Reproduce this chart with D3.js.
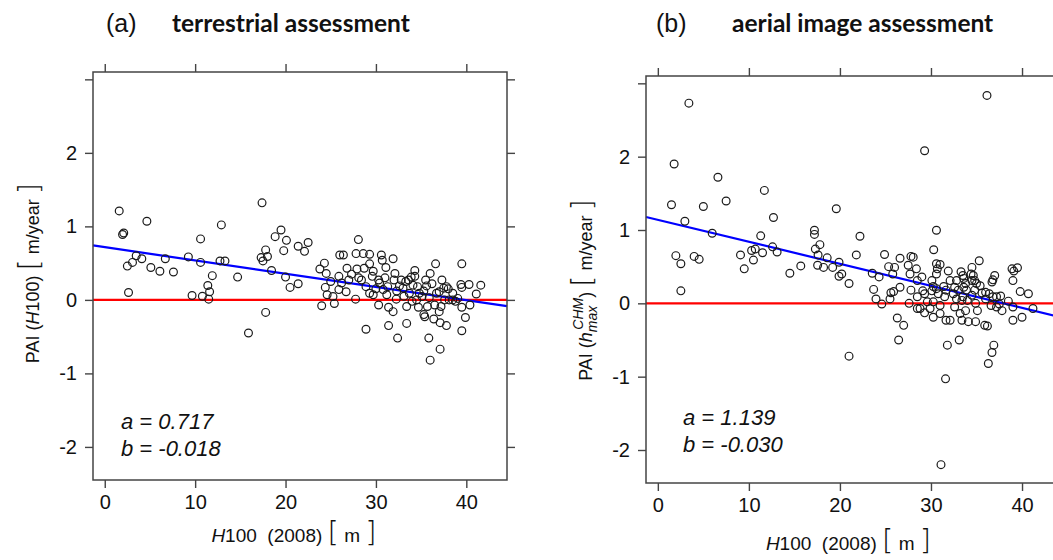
<!DOCTYPE html>
<html>
<head>
<meta charset="utf-8">
<script src="https://cdn.jsdelivr.net/npm/d3@7"></script>
<style>
  body { margin: 0; background: #fff; }
  svg { display: block; }
</style>
</head>
<body>
<svg id="chart" width="1053" height="560"></svg>
<script>
// (a) terrestrial assessment: H100 (2008) vs PAI
var terrH = [1.6,1.97,2.1,4.66,2.63,2.5,3.07,3.48,4.1,5.1,6.1,6.7,7.6,9.25,9.66,10.6,10.6,10.8,11.4,11.6,11.5,11.9,12.9,12.75,13.3,14.7,15.9,17.4,17.3,17.5,17.8,18.0,17.8,18.45,18.85,19.5,20.1,19.8,20.0,20.5,21.4,21.4,22.1,22.5,
  28.06,23.8,24.3,24.5,24.4,24.6,24.0,25.4,25.25,26.0,26.4,27.8,28.6,29.3,26.8,25.9,26.2,25.9,27.0,26.7,27.75,27.9,28.1,28.4,28.7,29.3,28.9,28.9,29.6,29.7,29.3,29.7,30.3,30.6,30.7,31.1,30.4,30.8,31.2,31.4,31.4,31.9,32.1,32.0,31.9,32.4,32.25,31.3,32.6,33.3,33.4,33.4,33.6,33.9,34.3,34.3,34.1,33.7,34.5,34.7,35.3,35.4,35.5,35.6,35.3,35.1,36.0,36.6,35.7,35.85,36.0,36.4,36.5,36.7,37.0,37.2,37.1,37.0,37.3,37.5,37.8,38.0,37.8,37.1,37.6,38.1,38.5,39.5,39.4,39.5,40.3,39.5,39.9,39.5,40.4,41.1,41.6,39.05,30.3,31.0,32.8,33.0,34.6,34.8,38.5,
  25.0,27.3,30.0,32.3,33.1,34.0,35.9,36.2,38.8];
var terrPAI = [1.21,0.89,0.91,1.07,0.10,0.46,0.51,0.60,0.56,0.44,0.39,0.56,0.38,0.585,0.06,0.83,0.51,0.05,0.195,0.11,0.01,0.33,1.02,0.53,0.53,0.31,-0.45,1.32,0.575,0.53,0.68,0.59,-0.17,0.40,0.86,0.95,0.81,0.67,0.31,0.17,0.22,0.73,0.66,0.78,
  0.82,0.42,0.50,0.36,0.17,0.07,-0.08,-0.05,0.045,0.61,0.61,0.63,0.63,0.62,0.43,0.32,0.23,0.14,0.27,0.11,0.01,0.42,0.30,0.27,0.43,0.49,0.18,-0.40,0.32,0.39,0.09,0.07,-0.07,0.61,0.54,0.44,0.23,0.14,0.07,-0.10,-0.35,0.56,0.36,0.27,-0.16,-0.52,0.01,0.18,0.19,0.25,-0.32,-0.09,0.27,0.31,0.40,0.32,0.20,0.09,0.00,-0.10,-0.20,-0.23,0.27,0.19,0.12,0.045,0.36,0.49,-0.09,-0.52,-0.82,-0.26,-0.07,0.09,0.11,-0.09,-0.31,-0.16,0.27,0.16,0.18,0.15,-0.35,-0.67,0.00,0.00,0.00,0.49,0.21,0.17,0.21,-0.10,-0.24,-0.42,-0.07,0.08,0.20,0.02,0.27,0.30,0.27,0.16,0.18,0.09,0.09,
  0.25,0.35,0.15,0.12,0.05,-0.02,0.03,0.22,-0.02];

// (b) aerial image assessment: H100 (2008) vs PAI (h max CHM)
var aerH = [3.41,1.79,1.5,6.6,5.0,7.5,11.7,2.97,5.97,12.7,19.6,1.98,2.53,3.99,4.54,2.53,9.08,9.49,10.3,10.7,10.5,11.5,11.3,12.6,13.1,14.5,15.7,17.2,17.2,17.3,17.8,17.6,17.55,18.2,18.6,19.2,19.9,20.2,19.9,21.0,21.0,
  36.15,29.3,30.6,22.2,21.8,24.9,30.3,26.6,27.8,28.05,23.55,24.3,23.7,23.96,24.6,25.35,25.8,26.0,25.6,25.9,26.6,25.5,27.5,27.7,28.4,28.5,27.8,27.6,28.5,28.8,29.0,29.1,29.3,29.3,29.6,26.3,27.0,26.45,
  30.6,31.0,30.7,30.6,30.1,30.25,30.1,30.6,30.8,30.25,29.9,30.25,31.0,31.0,31.4,31.65,31.5,31.65,32.1,31.8,31.6,31.1,31.9,32.1,32.6,32.8,33.0,32.8,33.3,33.5,33.2,33.4,33.1,33.6,33.8,33.6,33.9,33.5,33.4,34.0,33.8,34.1,
  34.5,34.4,34.65,34.5,34.8,35.0,34.8,34.5,34.9,35.1,34.9,35.3,35.4,35.6,36.0,36.0,35.9,36.2,36.7,36.8,37.0,36.4,36.8,36.6,37.2,36.9,36.7,36.3,37.2,37.65,37.5,37.8,38.5,38.9,39.1,39.5,39.0,39.0,39.0,40.0,39.8,40.7,41.2,28.5,32.45,32.6];
var aerPAI = [2.73,1.90,1.345,1.72,1.32,1.395,1.54,1.12,0.955,1.17,1.29,0.65,0.54,0.64,0.60,0.17,0.66,0.47,0.72,0.74,0.59,0.69,0.92,0.77,0.70,0.41,0.51,0.996,0.94,0.74,0.80,0.66,0.52,0.49,0.62,0.49,0.56,0.40,0.37,0.27,-0.72,
  2.835,2.08,0.996,0.915,0.66,0.666,0.73,0.615,0.64,0.63,0.41,0.36,0.19,0.06,-0.01,0.50,0.40,0.49,0.145,0.16,0.22,0.06,0.52,0.40,0.47,0.31,0.18,0.00,-0.07,-0.07,0.36,0.17,0.13,-0.13,0.02,-0.20,-0.30,-0.50,
  0.54,0.53,0.47,0.40,0.31,0.23,0.17,0.20,0.13,0.02,-0.07,-0.19,-0.14,-0.03,0.23,0.18,0.09,-0.23,-0.23,-0.57,-1.03,-2.20,0.44,0.31,0.22,0.31,0.18,0.06,0.43,0.38,-0.14,-0.23,-0.50,0.34,0.27,0.22,0.18,0.09,0.04,0.04,-0.10,-0.25,
  0.49,0.40,0.38,0.31,0.31,0.27,0.18,0.11,0.00,-0.10,-0.25,0.58,0.24,0.14,0.15,0.06,-0.30,-0.31,0.29,0.32,0.38,0.13,0.09,-0.03,-0.05,-0.57,-0.67,-0.82,0.09,0.10,-0.01,-0.10,0.03,0.47,0.44,0.485,0.31,-0.23,-0.05,-0.19,0.16,0.13,-0.07,0.09,0.13,-0.05];

// regression coefficients (intercept a, slope b)
var fitA = [0.717, -0.018];
var fitB = [1.139, -0.030];

var xTicks = [0, 10, 20, 30, 40];
var yTicks = [-2, -1, 0, 1, 2, 3];
var yTickLabels = [-2, -1, 0, 1, 2];

var xDomain = [-1.3, 44.5];
var yDomain = [-2.45, 3.1];

var svg = d3.select("#chart");
var numFont = "'Liberation Sans', Arial, Helvetica, sans-serif";

function drawPanel(p) {
  var x = d3.scaleLinear().domain(xDomain).range([p.left, p.right]);
  var y = d3.scaleLinear().domain(yDomain).range([p.bottom, p.top]);
  var g = svg.append("g");
  var pts = p.xs.map(function (v, i) { return [v, p.ys[i]]; });

  // reference line at zero and the fitted line
  g.append("line")
    .attr("x1", p.left).attr("x2", p.right)
    .attr("y1", y(0)).attr("y2", y(0))
    .style("stroke", "#ff0000").style("stroke-width", 2.2);

  g.append("line")
    .attr("x1", p.left).attr("x2", p.right)
    .attr("y1", y(p.fit[0] + p.fit[1] * xDomain[0]))
    .attr("y2", y(p.fit[0] + p.fit[1] * xDomain[1]))
    .style("stroke", "#0000ff").style("stroke-width", 2.2);

  g.selectAll("circle")
    .data(pts)
    .enter()
    .append("circle")
    .attr("cx", function (d) { return x(d[0]); })
    .attr("cy", function (d) { return y(d[1]); })
    .attr("r", 3.9)
    .style("fill", "none")
    .style("stroke", "#1a1a1a")
    .style("stroke-width", 1.2);

  // axes on all four sides
  var bottom = g.append("g")
    .attr("transform", "translate(0," + p.bottom + ")")
    .call(d3.axisBottom(x).tickValues(xTicks).tickSize(8).tickPadding(7).tickSizeOuter(0));
  var top = g.append("g")
    .attr("transform", "translate(0," + p.top + ")")
    .call(d3.axisTop(x).tickValues(xTicks).tickSize(8).tickFormat("").tickSizeOuter(0));
  var left = g.append("g")
    .attr("transform", "translate(" + p.left + ",0)")
    .call(d3.axisLeft(y).tickValues(yTicks).tickSize(8).tickPadding(8).tickSizeOuter(0)
      .tickFormat(function (d) { return yTickLabels.indexOf(d) >= 0 ? d : ""; }));
  var right = g.append("g")
    .attr("transform", "translate(" + p.right + ",0)")
    .call(d3.axisRight(y).tickValues(yTicks).tickSize(8).tickFormat("").tickSizeOuter(0));

  [bottom, top, left, right].forEach(function (a) {
    a.select(".domain").remove();
    a.attr("font-family", null).attr("font-size", null);
    a.selectAll("line").style("stroke", "#444").style("stroke-width", 1.4);
    a.selectAll("text").style("font-family", numFont).style("font-size", "20px").style("fill", "#111");
  });

  g.append("rect")
    .attr("x", p.left).attr("y", p.top)
    .attr("width", p.right - p.left).attr("height", p.bottom - p.top)
    .style("fill", "none").style("stroke", "#444").style("stroke-width", 1.5);

  // panel titles
  svg.append("text")
    .attr("x", p.tagX).attr("y", 32)
    .style("font-family", numFont).style("font-size", "25px").style("fill", "#111")
    .text(p.tag);
  svg.append("text")
    .attr("x", p.titleX).attr("y", 32)
    .style("font-family", "Lato, 'Open Sans', sans-serif").style("font-weight", "bold")
    .style("font-size", "24.5px").style("fill", "#111")
    .text(p.title);

  // coefficients
  var ann = svg.append("g")
    .style("font-family", numFont).style("font-style", "italic")
    .style("font-size", "22px").style("fill", "#111");
  ann.append("text").attr("x", p.annX).attr("y", p.annY)
    .text("a = " + p.fit[0].toFixed(3));
  ann.append("text").attr("x", p.annX).attr("y", p.annY + 27)
    .text("b = " + p.fit[1].toFixed(3));

  // x-axis title
  var xt = svg.append("text")
    .attr("x", (p.left + p.right) / 2 - 6).attr("y", p.xTitleY)
    .attr("text-anchor", "middle")
    .style("font-family", numFont).style("font-size", "19px").style("fill", "#111");
  xt.append("tspan").style("font-style", "italic").text("H");
  xt.append("tspan").text("100\u00a0\u00a0(2008)\u00a0");
  xt.append("tspan").attr("class", "br").text("[");
  xt.append("tspan").text("\u00a0m\u00a0");
  xt.append("tspan").attr("class", "br").text("]");

  // y-axis title
  var yt = svg.append("text")
    .attr("transform", "translate(" + p.yTitleX + "," + p.yTitleY + ") rotate(-90)")
    .attr("text-anchor", "middle")
    .style("font-family", numFont).style("font-size", "18px").style("fill", "#111");
  p.yTitle(yt);
  yt.append("tspan").text("\u00a0");
  yt.append("tspan").attr("class", "br").text("[");
  yt.append("tspan").text("\u00a0m/year\u00a0");
  yt.append("tspan").attr("class", "br").text("]");

  svg.selectAll("tspan.br")
    .style("font-family", "'DejaVu Sans', sans-serif")
    .style("font-weight", 200)
    .style("font-size", "29px");
}

drawPanel({
  left: 93, right: 507, top: 72, bottom: 480,
  xs: terrH, ys: terrPAI, fit: fitA,
  tag: "(a)", tagX: 106, title: "terrestrial assessment", titleX: 172,
  annX: 121, annY: 429, xTitleY: 542, yTitleX: 39, yTitleY: 273,
  yTitle: function (t) {
    t.append("tspan").text("PAI (");
    t.append("tspan").style("font-style", "italic").text("H");
    t.append("tspan").text("100)");
  }
});

drawPanel({
  left: 646, right: 1063, top: 76, bottom: 483,
  xs: aerH, ys: aerPAI, fit: fitB,
  tag: "(b)", tagX: 656, title: "aerial image assessment", titleX: 732,
  annX: 683, annY: 425, xTitleY: 550, yTitleX: 592, yTitleY: 290,
  yTitle: function (t) {
    t.append("tspan").text("PAI (");
    t.append("tspan").style("font-style", "italic").text("h");
    t.append("tspan").style("font-style", "italic").style("font-size", "14px")
      .attr("dy", 5).text("max");
    t.append("tspan").style("font-style", "italic").style("font-size", "14px")
      .attr("dx", -24).attr("dy", -14).text("CHM");
    t.append("tspan").attr("dy", 9).text(")");
  }
});
</script>
</body>
</html>
